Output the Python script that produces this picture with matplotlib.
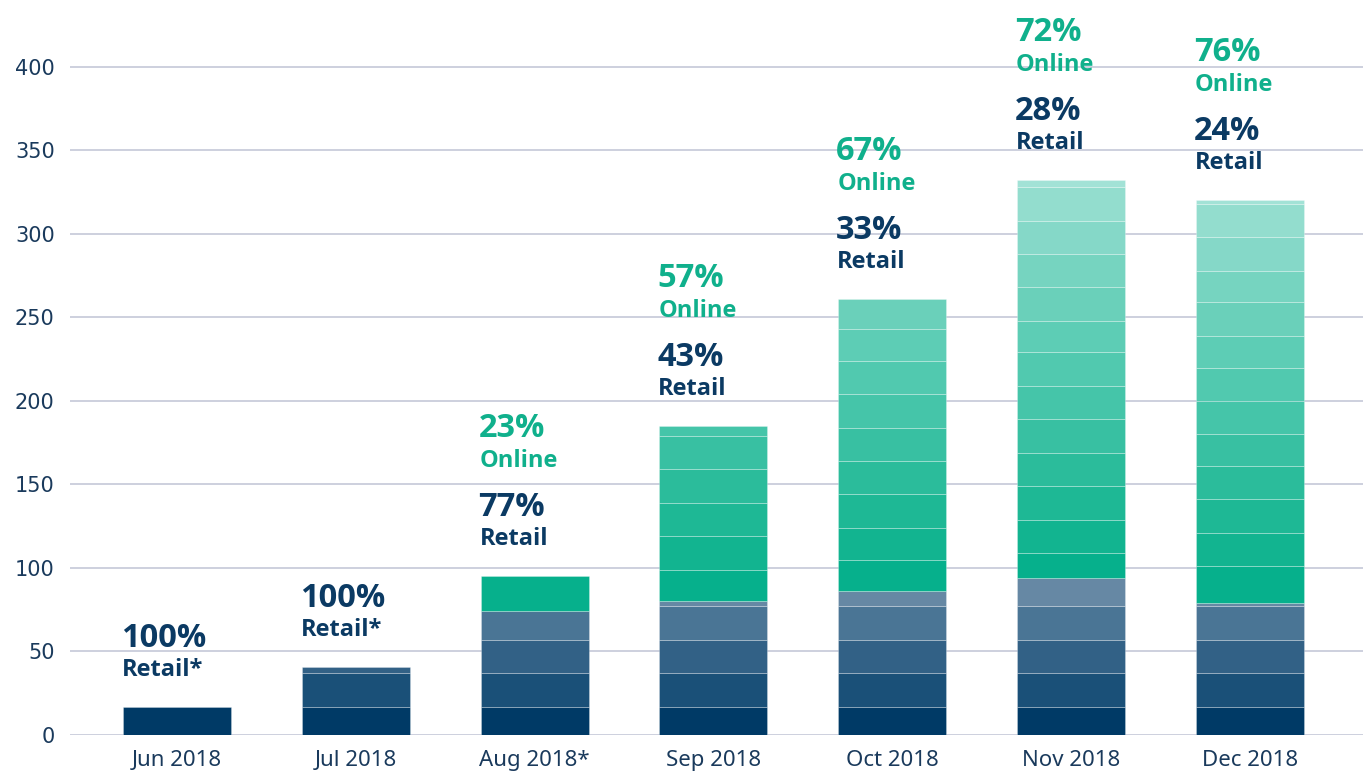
import matplotlib
matplotlib.use('Agg')
import matplotlib.pyplot as plt
from matplotlib import font_manager
import numpy as np

months = ['Jun 2018', 'Jul 2018', 'Aug 2018*', 'Sep 2018', 'Oct 2018', 'Nov 2018', 'Dec 2018']
online_pct = [None, None, 23, 57, 67, 72, 76]
retail_pct = [100, 100, 77, 43, 33, 28, 24]
retail_word = ['Retail*', 'Retail*', 'Retail', 'Retail', 'Retail', 'Retail', 'Retail']

# stacked bands, bottom to top
retail_segments = [
    [17],
    [17, 20, 4],
    [17, 20, 20, 17],
    [17, 20, 20, 20, 3],
    [17, 20, 20, 20, 9],
    [17, 20, 20, 20, 17],
    [17, 20, 20, 20, 2],
]
online_segments = [
    [],
    [],
    [21],
    [18.5, 20.5, 20, 20, 20, 6],
    [18.5, 19.5, 20, 20, 20, 20, 20, 19, 18],
    [15, 20, 20, 20, 20, 20, 20, 19, 20, 20, 20, 20, 4],
    [22, 20, 20, 20, 19, 20, 20, 19, 20, 19, 20, 20, 2.5],
]

retail_colors = ['#003A66', '#1A5078', '#326186', '#4A7595', '#6688A4']
online_colors = ['#06B08C', '#12B490', '#1EB895', '#2BBC9B', '#38C0A2', '#45C5A9',
                 '#51C9AF', '#5DCDB5', '#6AD0BA', '#76D4C0', '#85D8C8', '#93DDCE', '#A2E2D6']
navy = '#0B3A63'
green = '#10B08C'
grid_color = '#C9CDDB'


def bold_family():
    # pick a family that really has a bold face installed
    for fam in ['Open Sans', 'Noto Sans', 'Lato', 'Inter', 'Roboto']:
        try:
            path = font_manager.findfont(font_manager.FontProperties(family=fam, weight='bold'),
                                         fallback_to_default=False)
        except Exception:
            continue
        name = path.lower()
        if 'bold' in name or 'variable' in name or '[' in name:
            return fam
    return 'DejaVu Sans'


bfam = bold_family()
pct_size, word_size = 23.5, 17

fig = plt.figure(figsize=(13.63, 7.78), dpi=100)
ax = fig.add_axes([70 / 1363, 43 / 778, 1 - 70 / 1363, 1 - 43 / 778])

x = np.arange(len(months))
width = 0.604

for i in range(len(months)):
    bottom = 0
    for k, h in enumerate(retail_segments[i]):
        ax.bar(x[i], h, width, bottom=bottom, color=retail_colors[k],
               edgecolor=(1, 1, 1, 0.3), linewidth=0.6, zorder=3)
        bottom += h
    for k, h in enumerate(online_segments[i]):
        ax.bar(x[i], h, width, bottom=bottom, color=online_colors[k],
               edgecolor=(1, 1, 1, 0.3), linewidth=0.6, zorder=3)
        bottom += h
    top = bottom
    left = x[i] - width / 2
    lab = dict(xy=(left, top), textcoords='offset pixels', ha='left', va='baseline',
               family=bfam, fontweight='bold')
    ax.annotate(retail_word[i], xytext=(-1, 31), color=navy, fontsize=word_size, **lab)
    ax.annotate(f'{retail_pct[i]}%', xytext=(-2, 60), color=navy, fontsize=pct_size, **lab)
    if online_pct[i] is not None:
        ax.annotate('Online', xytext=(-1, 109), color=green, fontsize=word_size, **lab)
        ax.annotate(f'{online_pct[i]}%', xytext=(-2, 139), color=green, fontsize=pct_size, **lab)

ax.set_xlim(-0.598, 6.633)
ax.set_ylim(0, 440)
ax.set_yticks(range(0, 401, 50))
ax.set_xticks(x)
ax.set_xticklabels(months, family='Noto Sans', fontsize=16, color='#1A3A5C')
for t in ax.get_yticklabels():
    t.set_family('DejaVu Sans')
    t.set_fontsize(15)
    t.set_color('#1A3A5C')
ax.tick_params(axis='both', length=0)
ax.tick_params(axis='y', pad=11)
ax.tick_params(axis='x', pad=11)
ax.yaxis.grid(True, color=grid_color, linewidth=1.3, zorder=0)
ax.set_axisbelow(True)
for s in ax.spines.values():
    s.set_visible(False)

fig.savefig('out.png', dpi=100)
